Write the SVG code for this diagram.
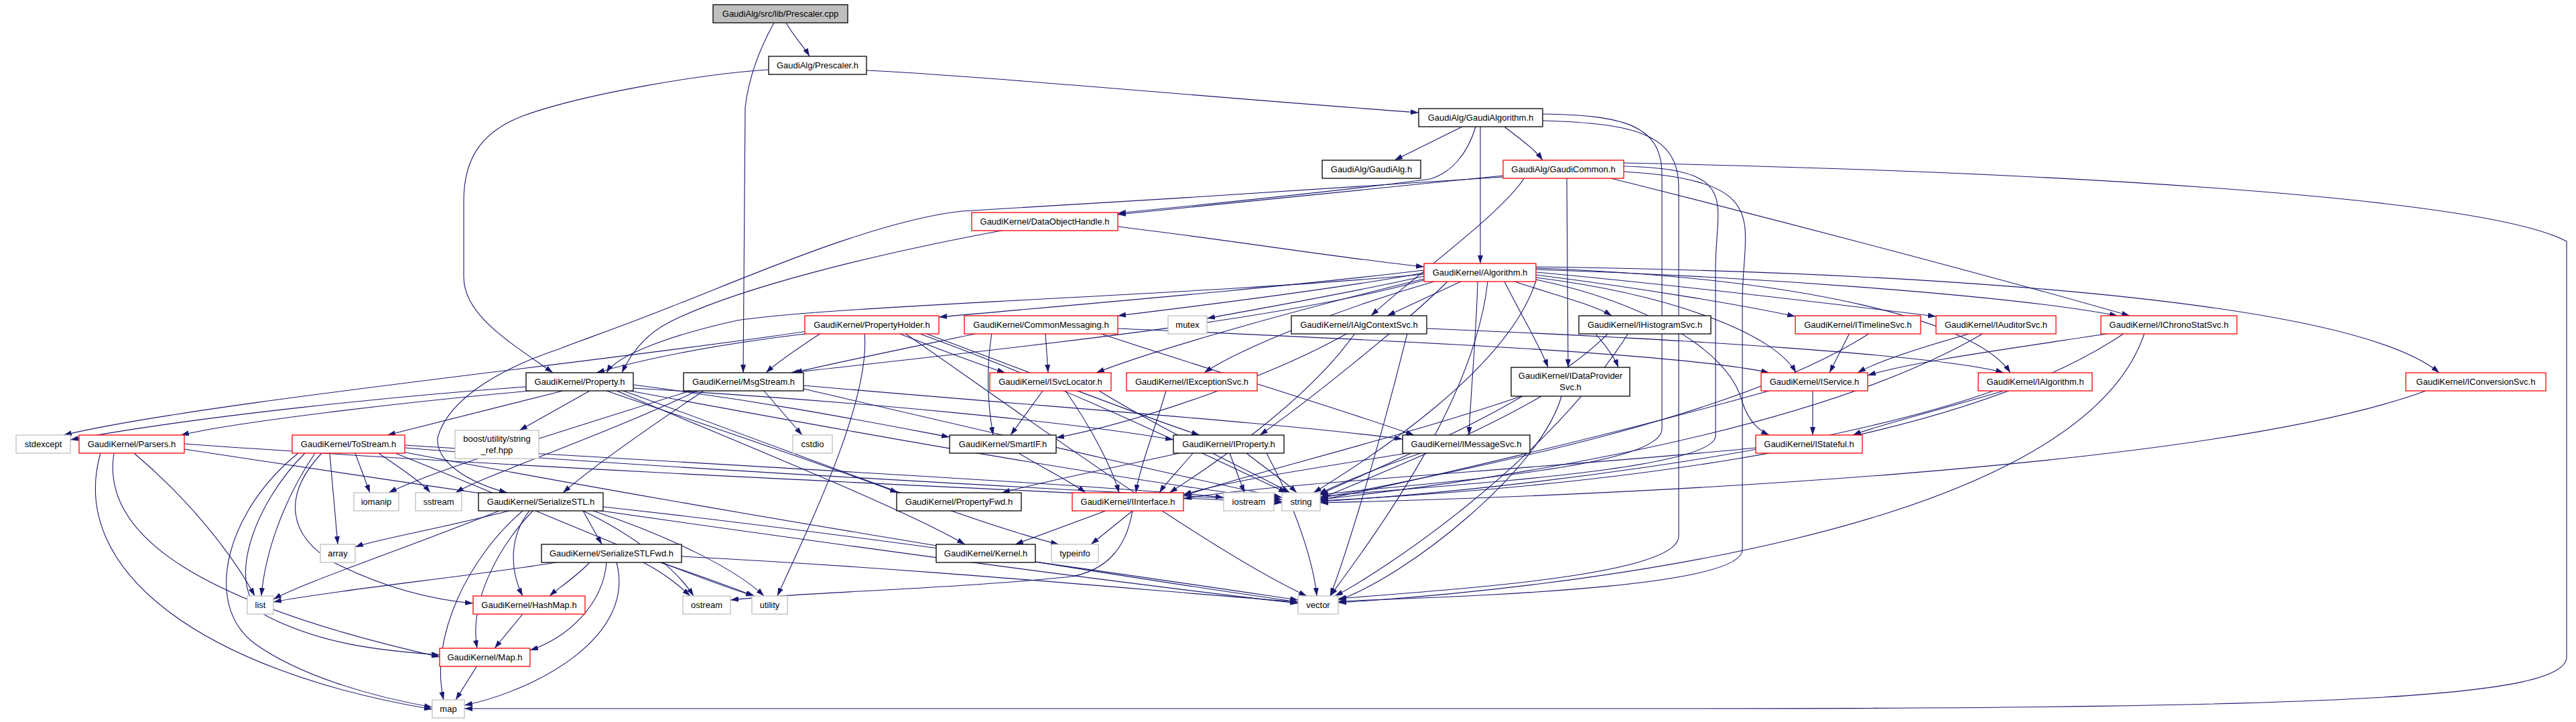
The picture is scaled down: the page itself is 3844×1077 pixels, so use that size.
<svg xmlns="http://www.w3.org/2000/svg" width="3844" height="1077" viewBox="0 0 3844 1077">
<defs>
<marker id="ah" markerWidth="12" markerHeight="8" refX="12" refY="4" orient="auto" markerUnits="userSpaceOnUse"><path d="M0,0 L12,4 L0,8 z" fill="#191970"/></marker>
<style>
.e{fill:none;stroke:#191970;stroke-width:1.1;marker-end:url(#ah)}
.k{fill:#fff;stroke:#000;stroke-width:1.3}
.r{fill:#fff;stroke:#ff0000;stroke-width:1.3}
.g{fill:#fff;stroke:#bfbfbf;stroke-width:1.3}
.root{fill:#bfbfbf;stroke:#000;stroke-width:1.3}
text{font-family:"Liberation Sans",Arial,Helvetica,sans-serif;font-size:13px;text-anchor:middle;fill:#000}
</style>
</defs>
<rect x="0" y="0" width="3844" height="1077" fill="#fff"/>
<g id="edges">
<path class="e" d="M1173,34 C1185,55 1200,70 1208,84"/>
<path class="e" d="M1155,34 C1135,70 1118,110 1112,160 L1109,556"/>
<path class="e" d="M1293,105 C1450,112 1800,145 2117,168"/>
<path class="e" d="M1147,104 C1050,110 870,140 780,173 C715,198 692,240 692,300 L692,413 C692,470 760,510 825,556"/>
<path class="e" d="M2182,189 L2081,239"/>
<path class="e" d="M2245,189 C2265,205 2290,222 2302,239"/>
<path class="e" d="M2209,189 L2209,393"/>
<path class="e" d="M2202,189 C2190,230 2165,258 2134,267 C2000,285 1800,305 1668,318"/>
<path class="e" d="M2302,170 C2420,172 2480,185 2480,260 L2480,640 C2480,700 2100,722 1970,738"/>
<path class="e" d="M2302,180 C2440,184 2505,200 2505,280 L2505,800 C2505,860 2150,880 1997,893"/>
<path class="e" d="M2243,262 L1668,320"/>
<path class="e" d="M2243,264 C2000,280 1700,300 1435,315 C1300,330 1100,420 1000,458 C920,490 860,510 836,520 C760,545 670,590 653,653 C650,690 700,720 757,735"/>
<path class="e" d="M2275,265 C2240,320 2100,420 2046,471"/>
<path class="e" d="M2338,265 L2340,548"/>
<path class="e" d="M2400,265 C2700,340 3000,420 3178,471"/>
<path class="e" d="M2423,248 C2600,252 2560,300 2560,400 L2560,650 C2560,705 2100,726 1970,741"/>
<path class="e" d="M2423,256 C2650,270 2600,330 2600,450 L2600,820 C2600,880 2150,890 1997,897"/>
<path class="e" d="M2423,243 C3000,255 3700,290 3830,360 L3830,980 C3830,1040 3500,1057 2500,1057 L693,1057"/>
<path class="e" d="M2125,403 C1900,430 1600,455 1401,473"/>
<path class="e" d="M2125,407 C2000,430 1800,455 1668,471"/>
<path class="e" d="M2125,412 C2000,440 1880,460 1801,475"/>
<path class="e" d="M2180,420 L2070,471"/>
<path class="e" d="M2260,420 C2320,440 2380,455 2405,471"/>
<path class="e" d="M2292,410 C2450,430 2600,455 2679,472"/>
<path class="e" d="M2292,406 C2500,425 2750,455 2889,472"/>
<path class="e" d="M2292,402 C2600,412 3000,440 3160,471"/>
<path class="e" d="M2292,398 C2800,405 3500,440 3640,556"/>
<path class="e" d="M2292,400 C2700,415 2950,480 3000,556"/>
<path class="e" d="M2292,414 C2500,440 2650,500 2680,556"/>
<path class="e" d="M2292,417 C2450,450 2580,520 2600,600 C2610,630 2625,642 2640,649"/>
<path class="e" d="M2245,420 C2270,470 2300,520 2310,548"/>
<path class="e" d="M2205,420 C2203,500 2195,580 2192,649"/>
<path class="e" d="M2160,420 C2100,480 1950,600 1880,649"/>
<path class="e" d="M2140,420 C2000,460 1850,520 1797,556"/>
<path class="e" d="M2125,416 C1900,470 1700,530 1636,556"/>
<path class="e" d="M2125,409 C1800,440 1250,455 1100,478 C1000,500 920,530 905,556"/>
<path class="e" d="M2125,418 C1900,480 1500,520 1180,556"/>
<path class="e" d="M2292,419 C2250,550 2050,680 1960,735"/>
<path class="e" d="M2220,420 C2200,600 2050,800 1985,889"/>
<path class="e" d="M1668,338 C1850,360 2000,385 2125,398"/>
<path class="e" d="M1500,343 C1300,380 1100,430 1000,480 C960,500 940,530 928,556"/>
<path class="e" d="M1210,497 C1100,510 980,530 890,556"/>
<path class="e" d="M1205,494 C900,540 300,600 95,649"/>
<path class="e" d="M1380,497 C1550,560 1700,620 1790,649"/>
<path class="e" d="M1340,497 C1400,520 1450,540 1500,556"/>
<path class="e" d="M1290,497 C1300,600 1200,800 1160,889"/>
<path class="e" d="M1350,497 C1500,600 1800,820 1950,889"/>
<path class="e" d="M1370,497 C1600,580 1800,680 1920,735"/>
<path class="e" d="M1225,497 C1190,520 1160,540 1143,556"/>
<path class="e" d="M1460,497 C1350,520 1250,540 1185,556"/>
<path class="e" d="M1480,497 C1470,560 1475,610 1482,649"/>
<path class="e" d="M1560,497 L1564,556"/>
<path class="e" d="M1640,497 C1800,550 2000,610 2110,649"/>
<path class="e" d="M1668,490 C2000,505 2500,525 2640,556"/>
<path class="e" d="M1556,583 L1508,649"/>
<path class="e" d="M1590,583 C1630,640 1660,700 1670,735"/>
<path class="e" d="M1640,583 C1750,650 1880,710 1925,735"/>
<path class="e" d="M1740,583 C1720,650 1700,700 1695,735"/>
<path class="e" d="M2011,497 C1900,560 1700,630 1576,653"/>
<path class="e" d="M2022,497 C1950,600 1800,700 1745,735"/>
<path class="e" d="M2100,497 C2050,700 2000,850 1985,889"/>
<path class="e" d="M2129,490 C2500,505 2900,530 2990,556"/>
<path class="e" d="M2380,497 C2400,520 2410,535 2415,548"/>
<path class="e" d="M2400,497 C2300,600 2050,700 1968,738"/>
<path class="e" d="M2430,497 C2300,700 2050,860 1992,889"/>
<path class="e" d="M2760,497 L2730,556"/>
<path class="e" d="M2790,497 C2600,620 2200,700 1970,743"/>
<path class="e" d="M2942,497 C2860,520 2800,540 2772,556"/>
<path class="e" d="M2960,497 C2700,650 2200,720 1970,745"/>
<path class="e" d="M3150,497 C3000,520 2850,540 2787,560"/>
<path class="e" d="M3170,497 C2900,680 2300,730 1970,747"/>
<path class="e" d="M3200,497 C3100,800 2300,880 1997,899"/>
<path class="e" d="M3620,583 C3300,700 2400,740 1970,750"/>
<path class="e" d="M2270,591 C2100,650 1850,710 1766,740"/>
<path class="e" d="M2300,591 C2200,650 2050,710 1970,744"/>
<path class="e" d="M2330,591 C2300,700 2100,860 1997,895"/>
<path class="e" d="M2705,583 L2705,649"/>
<path class="e" d="M2640,583 C2400,650 2100,720 1970,746"/>
<path class="e" d="M2990,583 C2900,610 2800,635 2765,649"/>
<path class="e" d="M2975,583 C2700,680 2200,735 1970,748"/>
<path class="e" d="M2620,668 C2300,700 1900,720 1766,744"/>
<path class="e" d="M840,583 L578,649"/>
<path class="e" d="M880,583 L775,642"/>
<path class="e" d="M792,583 C600,600 350,630 270,649"/>
<path class="e" d="M785,577 C600,590 300,620 105,656"/>
<path class="e" d="M945,579 C1300,600 1600,630 1751,656"/>
<path class="e" d="M945,574 C1150,600 1300,630 1417,652"/>
<path class="e" d="M905,583 C1100,650 1250,700 1340,735"/>
<path class="e" d="M920,583 C1150,680 1350,760 1440,812"/>
<path class="e" d="M940,583 C1300,650 1700,720 1913,745"/>
<path class="e" d="M930,583 C1200,680 1450,780 1580,812"/>
<path class="e" d="M1140,583 L1197,649"/>
<path class="e" d="M1199,575 C1600,610 1900,630 2093,655"/>
<path class="e" d="M1050,583 C950,650 880,700 840,735"/>
<path class="e" d="M1030,583 C850,640 650,700 580,735"/>
<path class="e" d="M1040,583 C900,650 720,710 680,735"/>
<path class="e" d="M1199,580 C1500,650 1800,720 1913,742"/>
<path class="e" d="M530,676 L552,735"/>
<path class="e" d="M565,676 C600,700 630,720 642,735"/>
<path class="e" d="M492,676 L504,812"/>
<path class="e" d="M470,676 C420,750 395,830 390,889"/>
<path class="e" d="M445,676 C340,760 300,900 380,960 C450,1010 560,1040 645,1055"/>
<path class="e" d="M455,676 C380,750 330,880 400,920 C480,960 560,970 656,977"/>
<path class="e" d="M480,676 C420,740 430,800 500,840 C580,880 650,895 706,900"/>
<path class="e" d="M604,668 C1000,700 1600,730 1913,748"/>
<path class="e" d="M600,674 C1000,750 1600,850 1937,898"/>
<path class="e" d="M590,676 C800,760 1000,850 1125,889"/>
<path class="e" d="M604,664 C1000,690 1600,720 1826,742"/>
<path class="e" d="M200,676 C300,760 360,850 380,889"/>
<path class="e" d="M150,676 C100,850 300,1000 645,1058"/>
<path class="e" d="M170,676 C150,800 300,900 656,980"/>
<path class="e" d="M275,670 C800,750 1500,850 1937,900"/>
<path class="e" d="M275,662 C800,700 1500,730 1913,750"/>
<path class="e" d="M870,762 L898,812"/>
<path class="e" d="M760,762 C650,790 560,805 530,816"/>
<path class="e" d="M745,762 C600,820 450,870 408,894"/>
<path class="e" d="M790,762 C760,800 760,850 780,889"/>
<path class="e" d="M795,762 C740,820 700,900 712,967"/>
<path class="e" d="M780,762 C700,830 640,950 662,1044"/>
<path class="e" d="M870,762 C950,800 1010,850 1035,889"/>
<path class="e" d="M885,762 C1000,800 1100,850 1140,889"/>
<path class="e" d="M900,756 C1300,800 1700,860 1937,895"/>
<path class="e" d="M830,839 C700,860 500,880 408,898"/>
<path class="e" d="M880,839 C860,860 830,880 820,889"/>
<path class="e" d="M905,839 C900,900 850,950 791,970"/>
<path class="e" d="M920,839 C950,950 800,1030 693,1052"/>
<path class="e" d="M960,839 C1000,860 1020,880 1030,889"/>
<path class="e" d="M985,839 C1050,860 1100,880 1126,889"/>
<path class="e" d="M1017,830 C1400,850 1700,880 1937,898"/>
<path class="e" d="M780,916 L738,967"/>
<path class="e" d="M712,993 L680,1044"/>
<path class="e" d="M1520,676 C1560,700 1600,720 1620,735"/>
<path class="e" d="M1780,676 C1760,700 1740,720 1730,735"/>
<path class="e" d="M1760,676 C1650,700 1550,720 1495,735"/>
<path class="e" d="M1860,676 C1890,700 1920,720 1935,735"/>
<path class="e" d="M1835,676 L1857,735"/>
<path class="e" d="M1890,676 C1935,760 1960,840 1965,889"/>
<path class="e" d="M2100,676 C1950,700 1820,720 1766,738"/>
<path class="e" d="M2120,676 C2050,700 1990,725 1968,737"/>
<path class="e" d="M1650,762 L1515,812"/>
<path class="e" d="M1690,762 L1628,812"/>
<path class="e" d="M1690,762 C1680,820 1650,850 1600,860 C1400,880 1200,883 1090,895"/>
</g>
<g id="n_prescaler_cpp"><rect class="root" x="1064" y="7" width="201" height="27"/><text x="1164.5" y="25">GaudiAlg/src/lib/Prescaler.cpp</text></g>
<g id="n_prescaler_h"><rect class="k" x="1147" y="84" width="146" height="27"/><text x="1220" y="102">GaudiAlg/Prescaler.h</text></g>
<g id="n_gaudialgorithm_h"><rect class="k" x="2117" y="162" width="185" height="27"/><text x="2209.5" y="180">GaudiAlg/GaudiAlgorithm.h</text></g>
<g id="n_gaudialg_h"><rect class="k" x="1973" y="239" width="147" height="27"/><text x="2046.5" y="257">GaudiAlg/GaudiAlg.h</text></g>
<g id="n_gaudicommon_h"><rect class="r" x="2243" y="239" width="180" height="27"/><text x="2333" y="257">GaudiAlg/GaudiCommon.h</text></g>
<g id="n_dataobjecthandle_h"><rect class="r" x="1450" y="317" width="218" height="27"/><text x="1559" y="335">GaudiKernel/DataObjectHandle.h</text></g>
<g id="n_algorithm_h"><rect class="r" x="2125" y="393" width="167" height="27"/><text x="2208.5" y="411">GaudiKernel/Algorithm.h</text></g>
<g id="n_propertyholder_h"><rect class="r" x="1201" y="471" width="200" height="27"/><text x="1301" y="489">GaudiKernel/PropertyHolder.h</text></g>
<g id="n_commonmessaging_h"><rect class="r" x="1439" y="471" width="229" height="27"/><text x="1553.5" y="489">GaudiKernel/CommonMessaging.h</text></g>
<g id="n_mutex"><rect class="g" x="1743" y="471" width="58" height="27"/><text x="1772" y="489">mutex</text></g>
<g id="n_ialgcontextsvc_h"><rect class="k" x="1927" y="471" width="202" height="27"/><text x="2028" y="489">GaudiKernel/IAlgContextSvc.h</text></g>
<g id="n_ihistogramsvc_h"><rect class="k" x="2356" y="471" width="197" height="27"/><text x="2454.5" y="489">GaudiKernel/IHistogramSvc.h</text></g>
<g id="n_itimelinesvc_h"><rect class="r" x="2679" y="471" width="187" height="27"/><text x="2772.5" y="489">GaudiKernel/ITimelineSvc.h</text></g>
<g id="n_iauditorsvc_h"><rect class="r" x="2889" y="471" width="179" height="27"/><text x="2978.5" y="489">GaudiKernel/IAuditorSvc.h</text></g>
<g id="n_ichronostatsvc_h"><rect class="r" x="3135" y="471" width="203" height="27"/><text x="3236.5" y="489">GaudiKernel/IChronoStatSvc.h</text></g>
<g id="n_property_h"><rect class="k" x="785" y="556" width="160" height="27"/><text x="865" y="574">GaudiKernel/Property.h</text></g>
<g id="n_msgstream_h"><rect class="k" x="1020" y="556" width="179" height="27"/><text x="1109.5" y="574">GaudiKernel/MsgStream.h</text></g>
<g id="n_isvclocator_h"><rect class="r" x="1477" y="556" width="181" height="27"/><text x="1567.5" y="574">GaudiKernel/ISvcLocator.h</text></g>
<g id="n_iexceptionsvc_h"><rect class="r" x="1681" y="556" width="195" height="27"/><text x="1778.5" y="574">GaudiKernel/IExceptionSvc.h</text></g>
<g id="n_idataprovidersvc_h"><rect class="k" x="2255" y="548" width="177" height="43"/><text x="2343.5" y="565">GaudiKernel/IDataProvider</text><text x="2343.5" y="582">Svc.h</text></g>
<g id="n_iservice_h"><rect class="r" x="2628" y="556" width="159" height="27"/><text x="2707.5" y="574">GaudiKernel/IService.h</text></g>
<g id="n_ialgorithm_h"><rect class="r" x="2952" y="556" width="170" height="27"/><text x="3037" y="574">GaudiKernel/IAlgorithm.h</text></g>
<g id="n_iconversionsvc_h"><rect class="r" x="3590" y="556" width="209" height="27"/><text x="3694.5" y="574">GaudiKernel/IConversionSvc.h</text></g>
<g id="n_stdexcept"><rect class="g" x="24" y="649" width="81" height="27"/><text x="64.5" y="667">stdexcept</text></g>
<g id="n_parsers_h"><rect class="r" x="118" y="649" width="157" height="27"/><text x="196.5" y="667">GaudiKernel/Parsers.h</text></g>
<g id="n_tostream_h"><rect class="r" x="436" y="649" width="168" height="27"/><text x="520" y="667">GaudiKernel/ToStream.h</text></g>
<g id="n_boost_string_ref"><rect class="g" x="679" y="642" width="125" height="42"/><text x="741.5" y="659">boost/utility/string</text><text x="741.5" y="676">_ref.hpp</text></g>
<g id="n_cstdio"><rect class="g" x="1183" y="649" width="59" height="27"/><text x="1212.5" y="667">cstdio</text></g>
<g id="n_smartif_h"><rect class="k" x="1417" y="649" width="159" height="27"/><text x="1496.5" y="667">GaudiKernel/SmartIF.h</text></g>
<g id="n_iproperty_h"><rect class="k" x="1751" y="649" width="165" height="27"/><text x="1833.5" y="667">GaudiKernel/IProperty.h</text></g>
<g id="n_imessagesvc_h"><rect class="k" x="2093" y="649" width="190" height="27"/><text x="2188" y="667">GaudiKernel/IMessageSvc.h</text></g>
<g id="n_istateful_h"><rect class="r" x="2620" y="649" width="159" height="27"/><text x="2699.5" y="667">GaudiKernel/IStateful.h</text></g>
<g id="n_iomanip"><rect class="g" x="528" y="735" width="67" height="27"/><text x="561.5" y="753">iomanip</text></g>
<g id="n_sstream"><rect class="g" x="620" y="735" width="69" height="27"/><text x="654.5" y="753">sstream</text></g>
<g id="n_serializestl_h"><rect class="k" x="714" y="735" width="186" height="27"/><text x="807" y="753">GaudiKernel/SerializeSTL.h</text></g>
<g id="n_propertyfwd_h"><rect class="k" x="1338" y="735" width="186" height="27"/><text x="1431" y="753">GaudiKernel/PropertyFwd.h</text></g>
<g id="n_iinterface_h"><rect class="r" x="1600" y="735" width="166" height="27"/><text x="1683" y="753">GaudiKernel/IInterface.h</text></g>
<g id="n_iostream"><rect class="g" x="1826" y="735" width="75" height="27"/><text x="1863.5" y="753">iostream</text></g>
<g id="n_string"><rect class="g" x="1913" y="735" width="57" height="27"/><text x="1941.5" y="753">string</text></g>
<g id="n_array"><rect class="g" x="478" y="812" width="52" height="27"/><text x="504" y="830">array</text></g>
<g id="n_serializestlfwd_h"><rect class="k" x="808" y="812" width="209" height="27"/><text x="912.5" y="830">GaudiKernel/SerializeSTLFwd.h</text></g>
<g id="n_kernel_h"><rect class="k" x="1397" y="812" width="148" height="27"/><text x="1471" y="830">GaudiKernel/Kernel.h</text></g>
<g id="n_typeinfo"><rect class="g" x="1569" y="812" width="70" height="27"/><text x="1604" y="830">typeinfo</text></g>
<g id="n_list"><rect class="g" x="369" y="889" width="39" height="27"/><text x="388.5" y="907">list</text></g>
<g id="n_hashmap_h"><rect class="r" x="706" y="889" width="167" height="27"/><text x="789.5" y="907">GaudiKernel/HashMap.h</text></g>
<g id="n_ostream"><rect class="g" x="1019" y="889" width="71" height="27"/><text x="1054.5" y="907">ostream</text></g>
<g id="n_utility"><rect class="g" x="1122" y="889" width="53" height="27"/><text x="1148.5" y="907">utility</text></g>
<g id="n_vector"><rect class="g" x="1937" y="889" width="60" height="27"/><text x="1967" y="907">vector</text></g>
<g id="n_map_h"><rect class="r" x="656" y="967" width="135" height="27"/><text x="723.5" y="985">GaudiKernel/Map.h</text></g>
<g id="n_map"><rect class="g" x="645" y="1044" width="48" height="27"/><text x="669" y="1062">map</text></g>
</svg>
